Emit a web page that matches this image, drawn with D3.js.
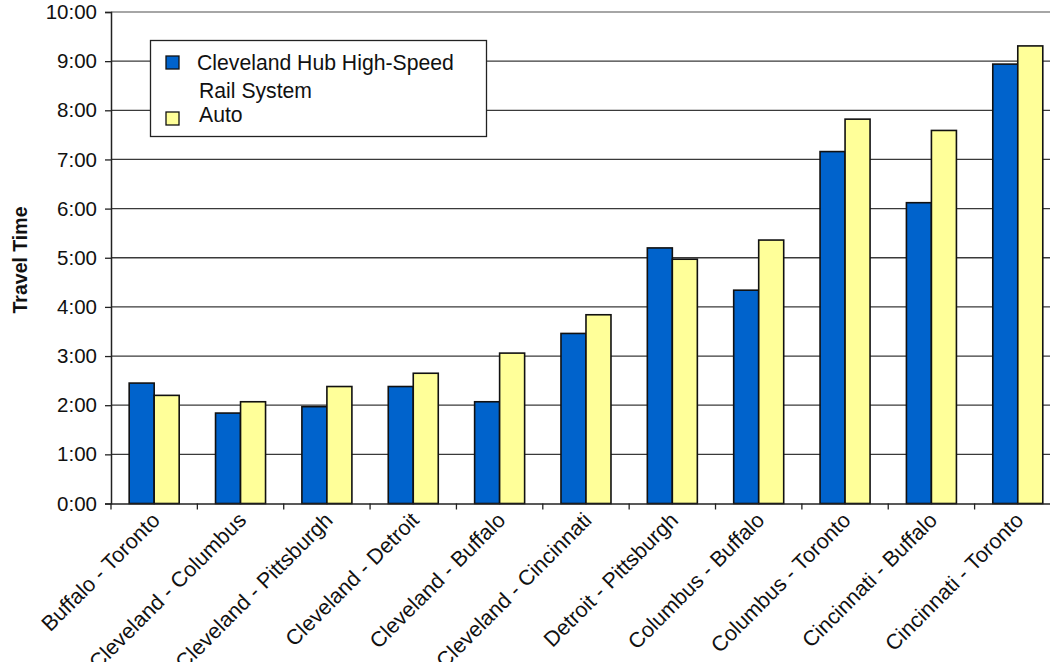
<!DOCTYPE html>
<html>
<head>
<meta charset="utf-8">
<script src="https://cdn.jsdelivr.net/npm/d3@7"></script>
<style>
  html, body { margin: 0; padding: 0; background: #fff; overflow: hidden; }
  svg { display: block; font-family: "Liberation Sans", Arial, sans-serif; }
</style>
</head>
<body>
<svg id="chart" width="1050" height="662"></svg>
<script>
// City pairs (in drawing order)
const routes = [
  "Buffalo - Toronto", "Cleveland - Columbus", "Cleveland - Pittsburgh",
  "Cleveland - Detroit", "Cleveland - Buffalo", "Cleveland - Cincinnati",
  "Detroit - Pittsburgh", "Columbus - Buffalo", "Columbus - Toronto",
  "Cincinnati - Buffalo", "Cincinnati - Toronto"
];
// Travel times in hours
const railHours = [2.45, 1.84, 1.97, 2.38, 2.07, 3.46, 5.20, 4.34, 7.16, 6.12, 8.94];
const autoHours = [2.20, 2.07, 2.38, 2.65, 3.06, 3.84, 4.97, 5.36, 7.82, 7.59, 9.31];
const seriesNames = ["Cleveland Hub High-Speed", "Auto"];
const seriesColors = ["#0063CC", "#FFFF99"];
const hourTicks = [0, 1, 2, 3, 4, 5, 6, 7, 8, 9, 10];

const svg = d3.select("#chart");
const plotLeft = 111, plotTop = 12, plotBottom = 503.5, step = 86.36;
const plotRight = plotLeft + step * routes.length;

const x = d3.scaleBand().domain(routes).range([plotLeft, plotRight]).paddingInner(0).paddingOuter(0);
const y = d3.scaleLinear().domain([0, 10]).range([plotBottom, plotTop]);
// two 25px bars centred in each category
const sub = d3.scaleBand().domain([0, 1]).range([0, x.bandwidth()]).paddingOuter(0.727).paddingInner(0);

const fmt = h => `${h}:00`;

// horizontal grid lines
svg.append("g").selectAll("line")
  .data(hourTicks.filter(h => h > 0 && h < 10))
  .join("line")
  .attr("x1", plotLeft).attr("x2", plotRight)
  .attr("y1", d => y(d)).attr("y2", d => y(d))
  .attr("stroke", "#3a3a3a").attr("stroke-width", 1.3);

// top edge of plot area
svg.append("line")
  .attr("x1", plotLeft).attr("x2", plotRight).attr("y1", y(10)).attr("y2", y(10))
  .attr("stroke", "#888").attr("stroke-width", 1.5);

// bars
const data = routes.map((r, i) => ({ r, vals: [railHours[i], autoHours[i]] }));
const groups = svg.append("g").selectAll("g")
  .data(data).join("g")
  .attr("transform", d => `translate(${x(d.r)},0)`);
groups.selectAll("rect")
  .data(d => d.vals.map((v, k) => ({ v, k })))
  .join("rect")
  .attr("x", d => sub(d.k))
  .attr("width", sub.bandwidth())
  .attr("y", d => y(d.v))
  .attr("height", d => y(0) - y(d.v))
  .attr("fill", d => seriesColors[d.k])
  .attr("stroke", "#111").attr("stroke-width", 1.6);

// y axis
const yAxis = d3.axisLeft(y).tickValues(hourTicks).tickFormat(fmt).tickSize(6).tickPadding(8);
const yg = svg.append("g").attr("transform", `translate(${plotLeft},0)`).call(yAxis);
yg.select(".domain").attr("stroke", "#222").attr("stroke-width", 1.5);
yg.selectAll(".tick line").attr("stroke", "#222").attr("stroke-width", 1.3);
yg.selectAll(".tick text").attr("font-size", 20.5).attr("fill", "#111")
  .attr("font-family", "Liberation Sans, Arial, sans-serif");

// x axis baseline and category boundary ticks
const xAxis = d3.axisBottom(x).tickSize(0).tickFormat("");
const xg = svg.append("g").attr("transform", `translate(0,${plotBottom})`).call(xAxis);
xg.select(".domain").attr("stroke", "#222").attr("stroke-width", 1.5);
xg.selectAll(".tick").remove();
svg.append("g").selectAll("line")
  .data(d3.range(routes.length + 1))
  .join("line")
  .attr("x1", i => plotLeft + i * x.step()).attr("x2", i => plotLeft + i * x.step())
  .attr("y1", plotBottom).attr("y2", plotBottom + 6)
  .attr("stroke", "#222").attr("stroke-width", 1.3);

// rotated category labels
svg.append("g").selectAll("text")
  .data(routes).join("text")
  .attr("transform", d => `translate(${x(d) + x.bandwidth() / 2 + 7},${plotBottom + 18}) rotate(-45)`)
  .attr("text-anchor", "end")
  .attr("font-size", 21.5).attr("fill", "#111")
  .text(d => d);

// y axis title
svg.append("text")
  .attr("transform", "translate(27,260) rotate(-90)")
  .attr("text-anchor", "middle")
  .attr("font-size", 19.5).attr("font-weight", "bold").attr("fill", "#111")
  .text("Travel Time");

// legend
const lg = svg.append("g");
lg.append("rect").attr("x", 150.5).attr("y", 40.5).attr("width", 336).attr("height", 96)
  .attr("fill", "#fff").attr("stroke", "#222").attr("stroke-width", 1.3);
lg.append("rect").attr("x", 166).attr("y", 56).attr("width", 13).attr("height", 13)
  .attr("fill", seriesColors[0]).attr("stroke", "#111").attr("stroke-width", 1.3);
lg.append("rect").attr("x", 166).attr("y", 112).attr("width", 13).attr("height", 13)
  .attr("fill", seriesColors[1]).attr("stroke", "#111").attr("stroke-width", 1.3);
lg.append("text").attr("x", 197).attr("y", 70).attr("font-size", 21.2).attr("fill", "#111")
  .text(seriesNames[0]);
lg.append("text").attr("x", 199).attr("y", 98).attr("font-size", 21.2).attr("fill", "#111")
  .text("Rail System");
lg.append("text").attr("x", 199).attr("y", 122).attr("font-size", 21.2).attr("fill", "#111")
  .text(seriesNames[1]);
</script>
</body>
</html>
